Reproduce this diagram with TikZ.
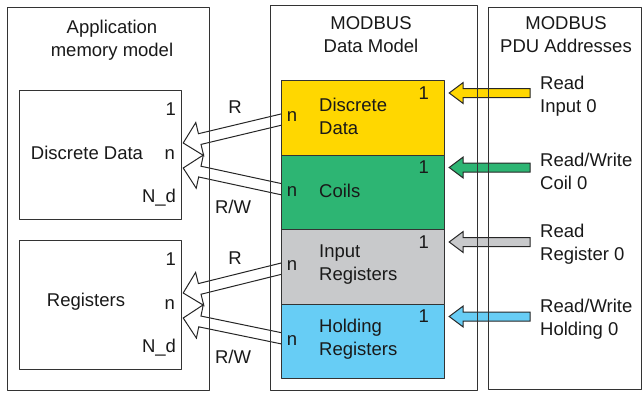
\documentclass[tikz,border=0pt]{standalone}
\usepackage{fontspec}
\setmainfont{Liberation Sans}
\usetikzlibrary{calc}
\definecolor{ddyellow}{HTML}{FFD700}
\definecolor{coilgreen}{HTML}{2DB573}
\definecolor{irgray}{HTML}{C8C9CB}
\definecolor{hrblue}{HTML}{67CDF5}
\pgfdeclarelayer{bg}
\pgfsetlayers{bg,main}
\tikzset{
  panel/.style={draw=black!80, line width=1.3pt, anchor=north west, inner sep=0pt},
  membox/.style={draw=black!80, line width=1.2pt, anchor=north west, inner sep=0pt, minimum width=162pt, minimum height=129pt},
  blk/.style={draw=black!80, line width=1.2pt, anchor=north west, inner sep=0pt, minimum width=163pt, minimum height=74.5pt},
  lbl/.style={inner sep=0pt, text=black!90},
}
% mui ten rong: #1 mau, #2 goc, #3 dinh, #4 nua than, #5 nua dau, #6 dai dau
\newcommand{\fatarrow}[6]{%
  \path[draw=black!85, line width=1pt, line join=miter, fill=#1]
    let \p1=($(#2)-(#3)$), \n1={atan2(\y1,\x1)}, \n2={veclen(\x1,\y1)-#6} in
    (#3) -- ($(#3)+({\n1}:#6)+({\n1+90}:#5)$) -- ++({\n1-90}:{#5-#4})
    -- ++({\n1}:{\n2*1pt}) -- ++({\n1-90}:{2*#4}) -- ++({\n1+180}:{\n2*1pt})
    -- ++({\n1-90}:{#5-#4}) -- cycle;}
\begin{document}
\begin{tikzpicture}[line join=round, x=1pt, y=-1pt, font=\fontsize{18.5}{23}\selectfont]
\useasboundingbox (0,0) rectangle (642,392);
%Vẽ các khung
\node[panel, minimum width=202pt, minimum height=383pt] (app) at (7,7) {};
\node[panel, minimum width=207pt, minimum height=385pt] (mdm) at (270,5) {};
\node[panel, minimum width=153pt, minimum height=382pt] (pdu) at (488,7) {};
\node[lbl, align=center] (apphd) at (112,40) {Application\\memory model};
\node[lbl, align=center] (mdmhd) at (371,35) {MODBUS\\Data Model};
\node[lbl, align=center] (pduhd) at (566,35) {MODBUS\\PDU Addresses};
%Vẽ bộ nhớ ứng dụng
\node[membox] (ddbox) at (19,90) {};
\node[membox] (regbox) at (19,240) {};
\node[lbl] (ddtxt) at (87,153) {Discrete Data};
\node[lbl] (regtxt) at (86,302) {Registers};
\foreach \b in {ddbox,regbox}{
  \node[lbl, anchor=east] (\b-one) at ([xshift=-6pt,yshift=-19pt]\b.north east) {1};
  \node[lbl, anchor=east] (\b-n) at ([xshift=-7pt,yshift=-65pt]\b.north east) {n};
  \node[lbl, anchor=east] (\b-nd) at ([xshift=-6pt,yshift=-108pt]\b.north east) {N\_d};
}
%Vẽ các khối MODBUS
\foreach \nm/\col/\yt/\txt in {DI/ddyellow/80/{Discrete\\Data}, CO/coilgreen/154.5/{Coils}, IR/irgray/229/{Input\\Registers}, HR/hrblue/303.5/{Holding\\Registers}}{
  \node[blk, fill=\col] (blk\nm) at (281,\yt) {};
  \node[lbl, anchor=east] (one\nm) at ([xshift=-16pt,yshift=-13pt]blk\nm.north east) {1};
  \node[lbl] (n\nm) at ([xshift=11pt,yshift=-37pt]blk\nm.north west) {n};
  \node[lbl, anchor=west, align=left] (txt\nm) at ([xshift=38pt,yshift=-36pt]blk\nm.north west) {\txt};
}
%Địa chỉ PDU
\foreach \nm/\yt/\txt in {DI/96.5/{Read\\Input 0}, CO/171.5/{Read/Write\\Coil 0}, IR/244.5/{Read\\Register 0}, HR/319/{Read/Write\\Holding 0}}
  \node[lbl, anchor=west, align=left] (rd\nm) at (540,\yt) {\txt};
\node[lbl] (rDI) at (235,107) {R};
\node[lbl] (rwCO) at (233,207) {R/W};
\node[lbl] (rIR) at (235,258) {R};
\node[lbl] (rwHR) at (233,357) {R/W};
%Vẽ các mũi tên
\coordinate (ltipDI) at ($(ddbox-n.east)+(8,-12)$);
\coordinate (ltipCO) at ($(ddbox-n.east)+(8,13)$);
\coordinate (ltipIR) at ($(regbox-n.east)+(8,-12)$);
\coordinate (ltipHR) at ($(regbox-n.east)+(8,13)$);
\begin{pgfonlayer}{bg}
\foreach \nm in {DI,CO,IR,HR}
  \fatarrow{white}{n\nm}{ltip\nm}{5.5pt}{17pt}{17pt};
\foreach \nm/\col in {DI/ddyellow, CO/coilgreen, IR/irgray, HR/hrblue}{
  \coordinate (src\nm) at ($(rd\nm.west |- one\nm)+(-10,0)$);
  \coordinate (tip\nm) at ($(blk\nm.east |- one\nm)+(4,0)$);
  \fatarrow{\col}{src\nm}{tip\nm}{4.5pt}{10.5pt}{14pt};
}
\end{pgfonlayer}
\end{tikzpicture}
\end{document}
